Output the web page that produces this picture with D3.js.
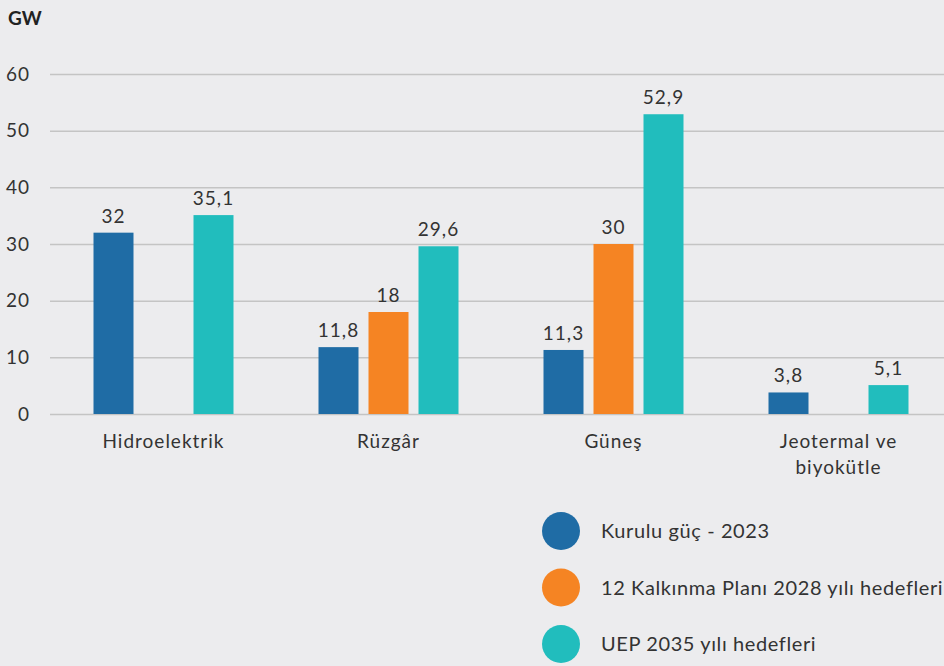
<!DOCTYPE html>
<html>
<head>
<meta charset="utf-8">
<script src="https://cdn.jsdelivr.net/npm/d3@7"></script>
<style>
  html, body { margin: 0; padding: 0; background: #ececee; }
  svg { display: block; font-family: Lato, "Noto Sans", sans-serif; }
  .lbl { letter-spacing: 1px; }
  .leg { letter-spacing: 0.6px; }
</style>
</head>
<body>
<svg id="chart"></svg>
<script>
// chart data
var categories = ['Hidroelektrik', 'Rüzgâr', 'Güneş', 'Jeotermal ve\nbiyokütle'];
var seriesNames = ['Kurulu güç - 2023', '12 Kalkınma Planı 2028 yılı hedefleri', 'UEP 2035 yılı hedefleri'];
var installed2023 = [32, 11.8, 11.3, 3.8];
var plan2028 = [null, 18, 30, null];
var uep2035 = [35.1, 29.6, 52.9, 5.1];
var yTicks = [0, 10, 20, 30, 40, 50, 60];
var colors = ['#1f6ca5', '#f58423', '#21bdbd'];

var width = 944, height = 666;
var svg = d3.select('#chart').attr('width', width).attr('height', height);

var seriesValues = [installed2023, plan2028, uep2035];
var data = [];
categories.forEach(function (c, i) {
    seriesNames.forEach(function (s, j) {
        if (seriesValues[j][i] != null) data.push({ cat: c, series: s, value: seriesValues[j][i], color: colors[j] });
    });
});

var yScale = d3.scaleLinear().domain([0, 60]).range([414, 74]);
var x0 = d3.scaleBand().domain(categories).range([51, 951]);
var x1 = d3.scaleBand().domain(seriesNames).range([0, 150]).paddingInner(0.2).paddingOuter(0.1);
var groupOffset = (x0.bandwidth() - 150) / 2;

// y axis label
svg.append('text')
    .attr('x', 8).attr('y', 25)
    .style('font-size', '19px').style('font-weight', 'bold').attr('fill', '#222')
    .text('GW');

// gridlines + tick labels
var grid = svg.append('g')
    .attr('transform', 'translate(50,0)')
    .call(d3.axisLeft(yScale).tickValues(yTicks).tickSize(-894).tickPadding(20).tickFormat(d3.format('d')));
grid.select('.domain').remove();
grid.selectAll('.tick line').attr('stroke', '#c4c4c4').attr('stroke-width', 1.5);
grid.selectAll('.tick text').attr('fill', '#333').style('font-size', '19px')
    .attr('class', 'lbl')
    .style('font-family', 'Lato, "Noto Sans", sans-serif');

// bars
svg.append('g').selectAll('rect')
    .data(data)
    .enter().append('rect')
    .attr('x', function (d) { return x0(d.cat) + groupOffset + x1(d.series); })
    .attr('y', function (d) { return yScale(d.value); })
    .attr('width', x1.bandwidth())
    .attr('height', function (d) { return yScale(0) - yScale(d.value); })
    .attr('fill', function (d) { return d.color; });

// value labels
var fmt = function (v) { return String(v).replace('.', ','); };
svg.append('g').selectAll('text')
    .data(data)
    .enter().append('text')
    .attr('class', 'lbl')
    .attr('x', function (d) { return x0(d.cat) + groupOffset + x1(d.series) + x1.bandwidth() / 2; })
    .attr('y', function (d) { return yScale(d.value) - 10; })
    .attr('text-anchor', 'middle')
    .attr('fill', '#333')
    .style('font-size', '19px')
    .text(function (d) { return fmt(d.value); });

// category labels
var catLabels = svg.append('g').selectAll('text')
    .data(categories)
    .enter().append('text')
    .attr('class', 'lbl')
    .attr('x', function (d) { return x0(d) + x0.bandwidth() / 2; })
    .attr('y', 448)
    .attr('text-anchor', 'middle')
    .attr('fill', '#333')
    .style('font-size', '19px');
catLabels.each(function (d) {
    var lines = d.split('\n');
    var t = d3.select(this);
    lines.forEach(function (l, i) {
        t.append('tspan')
            .attr('x', x0(d) + x0.bandwidth() / 2)
            .attr('dy', i === 0 ? 0 : 26)
            .text(l);
    });
});

// legend
var legend = svg.append('g').selectAll('g')
    .data(seriesNames)
    .enter().append('g')
    .attr('transform', function (d, i) { return 'translate(561,' + (531 + i * 56.5) + ')'; });
legend.append('circle')
    .attr('r', 19)
    .attr('fill', function (d, i) { return colors[i]; });
legend.append('text')
    .attr('class', 'leg')
    .attr('x', 40).attr('y', 7)
    .attr('fill', '#333')
    .style('font-size', '20px')
    .text(function (d) { return d; });
</script>
</body>
</html>
